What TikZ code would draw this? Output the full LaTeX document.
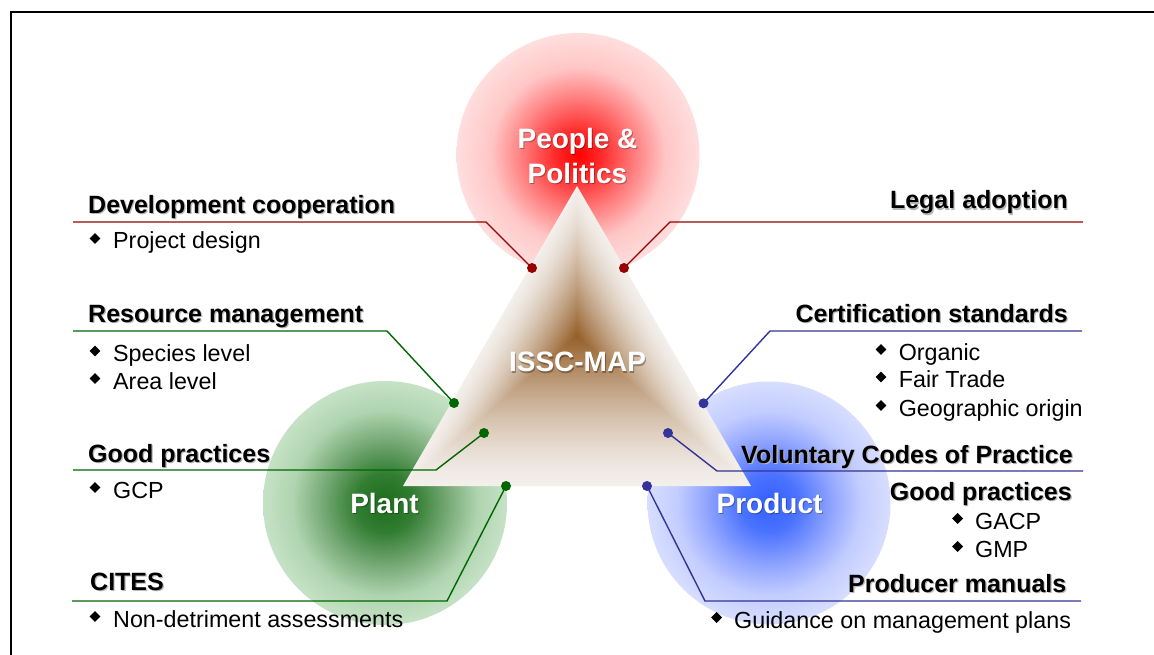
\documentclass[tikz,border=0pt]{standalone}
\usepackage{fontspec}
\setmainfont{Liberation Sans}
\usetikzlibrary{shapes.geometric}
\definecolor{lred}{RGB}{153,0,0}
\definecolor{lgreen}{RGB}{0,102,0}
\definecolor{lblue}{RGB}{51,51,153}
\definecolor{triedge}{RGB}{243,239,235}
\definecolor{tricore}{RGB}{150,95,40}
\definecolor{rgA}{RGB}{255,0,0}
\definecolor{rgB}{RGB}{255,45,45}
\definecolor{rgC}{RGB}{255,130,130}
\definecolor{rgD}{RGB}{255,198,198}
\definecolor{rgE}{RGB}{255,222,222}
\definecolor{ggA}{RGB}{25,110,25}
\definecolor{ggB}{RGB}{50,125,50}
\definecolor{ggC}{RGB}{120,170,120}
\definecolor{ggD}{RGB}{175,212,175}
\definecolor{ggE}{RGB}{198,226,198}
\definecolor{bgA}{RGB}{50,95,255}
\definecolor{bgB}{RGB}{75,115,255}
\definecolor{bgC}{RGB}{145,165,255}
\definecolor{bgD}{RGB}{195,205,255}
\definecolor{bgE}{RGB}{215,222,255}
\pgfdeclareradialshading{redglow}{\pgfpoint{0bp}{0bp}}{color(0bp)=(rgA); color(5bp)=(rgB); color(12bp)=(rgC); color(18bp)=(rgD); color(25bp)=(rgE); color(50bp)=(rgE)}
\pgfdeclareradialshading{greenglow}{\pgfpoint{0bp}{0bp}}{color(0bp)=(ggA); color(6bp)=(ggB); color(13bp)=(ggC); color(19bp)=(ggD); color(25bp)=(ggE); color(50bp)=(ggE)}
\pgfdeclareradialshading{blueglow}{\pgfpoint{0bp}{0bp}}{color(0bp)=(bgA); color(6bp)=(bgB); color(13bp)=(bgC); color(19bp)=(bgD); color(25bp)=(bgE); color(50bp)=(bgE)}
\tikzset{
  head/.style={font=\fontsize{25}{30}\selectfont\bfseries, inner sep=0pt},
  headsh/.style={head, text=black!28},
  body/.style={font=\fontsize{23.3}{28}\selectfont, inner sep=0pt},
  big/.style={font=\fontsize{28}{34}\selectfont\bfseries, text=white, inner sep=0pt},
  bigsh/.style={big, text=black, opacity=0.3},
  bul/.style={diamond, fill=black, inner sep=0pt, minimum size=11pt},
  dotR/.style={circle, fill=lred, inner sep=0pt, minimum size=10pt},
  dotG/.style={circle, fill=lgreen, inner sep=0pt, minimum size=10pt},
  dotB/.style={circle, fill=lblue, inner sep=0pt, minimum size=10pt},
  lnR/.style={draw=lred, line width=1.4pt},
  lnG/.style={draw=lgreen, line width=1.4pt},
  lnB/.style={draw=lblue, line width=1.4pt},
}
\begin{document}
\begin{tikzpicture}[x=1pt,y=-1pt]
\useasboundingbox (0,0) rectangle (1154,655);
\fill[white] (0,0) rectangle (1154,655);
% frame
\draw[line width=2pt] (1170,12) -- (10.7,12) -- (10.7,670);
% circles
\shade[shading=redglow] (578,154.5) circle[radius=121.5pt];
\shade[shading=greenglow] (385,503) circle[radius=122pt];
\shade[shading=blueglow] (769,503) circle[radius=121.5pt];
% triangle with path gradient
\foreach \i in {0,...,89}{
  \pgfmathsetmacro{\s}{1-\i/90}
  \pgfmathsetmacro{\p}{100*((\i+0.5)/90)^1.45}
  \fill[tricore!\p!triedge] (577,336-150*\s) -- (577-174*\s,336+150*\s) -- (577+174*\s,336+150*\s) -- cycle;
}
% big labels
\node[bigsh, anchor=base] (pp1s) at (578.5,149.8) {People \&};
\node[big, anchor=base] (pp1) at (577.5,148.5) {People \&};
\node[bigsh, anchor=base] (pp2s) at (578.5,184.8) {Politics};
\node[big, anchor=base] (pp2) at (577.5,183.5) {Politics};
\node[bigsh, anchor=base] (issc-s) at (578.5,373) {ISSC-MAP};
\node[big, anchor=base] (issc) at (577.5,371.7) {ISSC-MAP};
\node[bigsh, anchor=base] (plant-s) at (385.5,514.5) {Plant};
\node[big, anchor=base] (plant) at (384.5,513.3) {Plant};
\node[bigsh, anchor=base] (prod-s) at (770.5,514.3) {Product};
\node[big, anchor=base] (prod) at (769.5,513) {Product};
% connectors: red
\coordinate (dcL) at (73,222); \coordinate (dcB) at (486,222);
\node[dotR] (dcD) at (532,268) {};
\draw[lnR] (dcL) -- (dcB) -- (dcD.center);
\coordinate (laR) at (1083,222); \coordinate (laB) at (670,222);
\node[dotR] (laD) at (624,268) {};
\draw[lnR] (laR) -- (laB) -- (laD.center);
% green
\coordinate (rmL) at (73,331); \coordinate (rmB) at (387,331);
\node[dotG] (rmD) at (454,403) {};
\draw[lnG] (rmL) -- (rmB) -- (rmD.center);
\coordinate (gpL) at (73,470); \coordinate (gpB) at (436,470);
\node[dotG] (gpD) at (484,433) {};
\draw[lnG] (gpL) -- (gpB) -- (gpD.center);
\coordinate (ciL) at (72,601); \coordinate (ciB) at (447,601);
\node[dotG] (ciD) at (506,486) {};
\draw[lnG] (ciL) -- (ciB) -- (ciD.center);
% blue
\coordinate (csR) at (1082,331); \coordinate (csB) at (770,331);
\node[dotB] (csD) at (703.5,403.3) {};
\draw[lnB] (csR) -- (csB) -- (csD.center);
\coordinate (vcR) at (1083,471); \coordinate (vcB) at (717,471);
\node[dotB] (vcD) at (668,433) {};
\draw[lnB] (vcR) -- (vcB) -- (vcD.center);
\coordinate (pmR) at (1081,601); \coordinate (pmB) at (705,601);
\node[dotB] (pmD) at (647,486) {};
\draw[lnB] (pmR) -- (pmB) -- (pmD.center);
% headings left
\node[headsh, anchor=base west] (h1s) at (89.2,214.7) {Development cooperation};
\node[head, anchor=base west] (h1) at (88,213.5) {Development cooperation};
\node[headsh, anchor=base west] (h3s) at (89.2,323.2) {Resource management};
\node[head, anchor=base west] (h3) at (88,322) {Resource management};
\node[headsh, anchor=base west] (h4s) at (89.2,463.2) {Good practices};
\node[head, anchor=base west] (h4) at (88,462) {Good practices};
\node[headsh, anchor=base west] (h5s) at (91.2,591.2) {CITES};
\node[head, anchor=base west] (h5) at (90,590) {CITES};
% headings right
\node[headsh, anchor=base east] (h2s) at (1069.2,210.2) {Legal adoption};
\node[head, anchor=base east] (h2) at (1068,209) {Legal adoption};
\node[headsh, anchor=base east] (h6s) at (1069.2,323.2) {Certification standards};
\node[head, anchor=base east] (h6) at (1068,322) {Certification standards};
\node[headsh, anchor=base east] (h7s) at (1074.2,464.2) {Voluntary Codes of Practice};
\node[head, anchor=base east] (h7) at (1073,463) {Voluntary Codes of Practice};
\node[headsh, anchor=base east] (h8s) at (1073.2,501.2) {Good practices};
\node[head, anchor=base east] (h8) at (1072,500) {Good practices};
\node[headsh, anchor=base east] (h9s) at (1067.7,593.2) {Producer manuals};
\node[head, anchor=base east] (h9) at (1066.5,592) {Producer manuals};
% bullets left
\node[bul] (b1) at (95,238.5) {};
\node[body, anchor=base west] (t1) at (113,249) {Project design};
\node[bul] (b2) at (95,351) {};
\node[body, anchor=base west] (t2) at (113,361.5) {Species level};
\node[bul] (b3) at (95,378.5) {};
\node[body, anchor=base west] (t3) at (113,389) {Area level};
\node[bul] (b4) at (95,487.5) {};
\node[body, anchor=base west] (t4) at (113,498) {GCP};
\node[bul] (b5) at (95,616.5) {};
\node[body, anchor=base west] (t5) at (113,627) {Non-detriment assessments};
% bullets right
\node[bul] (b6) at (881,349.5) {};
\node[body, anchor=base west] (t6) at (898.6,360) {Organic};
\node[bul] (b7) at (881,377) {};
\node[body, anchor=base west] (t7) at (898.6,387.5) {Fair Trade};
\node[bul] (b8) at (881,405.5) {};
\node[body, anchor=base west] (t8) at (898.6,416) {Geographic origin};
\node[bul] (b9) at (957.6,518.5) {};
\node[body, anchor=base west] (t9) at (975,529) {GACP};
\node[bul] (b10) at (957.6,546.5) {};
\node[body, anchor=base west] (t10) at (975,557) {GMP};
\node[bul] (b11) at (716.6,617.5) {};
\node[body, anchor=base west] (t11) at (734,628) {Guidance on management plans};
\end{tikzpicture}
\end{document}
